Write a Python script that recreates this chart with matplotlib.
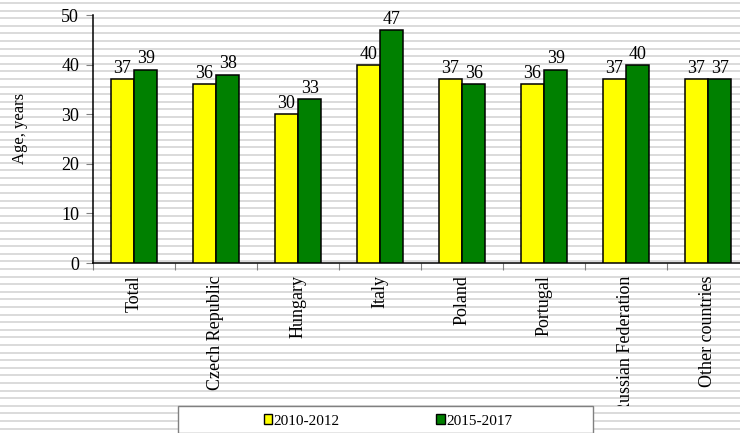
import numpy as np
import matplotlib
matplotlib.use("Agg")
import matplotlib.pyplot as plt
from matplotlib.lines import Line2D
from matplotlib.patches import Rectangle
from matplotlib.transforms import Bbox, TransformedBbox

categories = ["Total", "Czech Republic", "Hungary", "Italy", "Poland",
              "Portugal", "Russian Federation", "Other countries"]
age_2010 = [37, 36, 30, 40, 37, 36, 37, 37]
age_2015 = [39, 38, 33, 47, 36, 39, 40, 37]
series_names = ["2010-2012", "2015-2017"]
yticks = [0, 10, 20, 30, 40, 50]

plt.rcParams['font.family'] = ['Liberation Serif', 'DejaVu Serif']

W, H = 740, 433
fig = plt.figure(figsize=(W / 100, H / 100), dpi=100)
fig.patch.set_facecolor("white")

# striped background
for yp in np.arange(3, H, 7.6):
    fig.add_artist(Line2D([0, 1], [1 - yp / H, 1 - yp / H], transform=fig.transFigure,
                          color="#dadada", lw=1.4, zorder=-10))

ax = fig.add_axes([93 / W, 1 - 263 / H, (749 - 93) / W, (263 - 15) / H])
ax.set_facecolor("none")

x = np.arange(len(categories))
bw = 0.285
b1 = ax.bar(x - bw / 2, age_2010, bw, color="#ffff00", edgecolor="black", lw=1.1, zorder=3)
b2 = ax.bar(x + bw / 2, age_2015, bw, color="#008000", edgecolor="black", lw=1.1, zorder=3)

for bars, vals in ((b1, age_2010), (b2, age_2015)):
    for r, v in zip(bars, vals):
        ax.annotate(str(v), (r.get_x() + r.get_width() / 2, v), xytext=(0, 1.5),
                    textcoords="offset points", ha="center", va="bottom", fontsize=13)

ax.set_xlim(-0.5, len(categories) - 0.5)
ax.set_ylim(0, 50)
ax.set_yticks(yticks)
ax.tick_params(axis="y", length=5, color="#808080", labelsize=13, pad=5)
ax.set_xticks(np.arange(len(categories) + 1) - 0.5)
ax.set_xticklabels([])
ax.tick_params(axis="x", length=5, color="#808080")
ax.set_xticks(x, minor=True)
ax.set_xticklabels(categories, minor=True, rotation=90, fontsize=13, va="top")
ax.tick_params(axis="x", which="minor", length=0, pad=9)
for s in ("top", "right"):
    ax.spines[s].set_visible(False)
ax.spines["left"].set_linewidth(1.1)
ax.spines["bottom"].set_linewidth(1.1)

# long labels get cut at the top of the legend area
clip = TransformedBbox(Bbox([[0, 27 / H], [1, 1]]), fig.transFigure)
for lab in ax.get_xticklabels(minor=True):
    lab.set_clip_box(clip)
    lab.set_clip_on(True)

fig.text(20 / W, 1 - 128 / H, "Age, years", rotation=90, ha="center", va="center", fontsize=12)

# legend box at bottom
fig.add_artist(Rectangle((178 / W, 0), (593 - 178) / W, (433 - 406) / H,
                         transform=fig.transFigure, facecolor="white",
                         edgecolor="#808080", lw=1, zorder=5))
handles = [Rectangle((0, 0), 1, 1, facecolor=c, edgecolor="black", lw=1)
           for c in ("#ffff00", "#008000")]
leg = fig.legend(handles, series_names, loc="center", bbox_to_anchor=(388 / W, 1 - 421 / H),
                 ncol=2, frameon=False, fontsize=11, handlelength=0.55, handleheight=0.55,
                 handletextpad=0.12, columnspacing=6.3)
leg.set_zorder(6)

fig.savefig("out.png", dpi=100)
